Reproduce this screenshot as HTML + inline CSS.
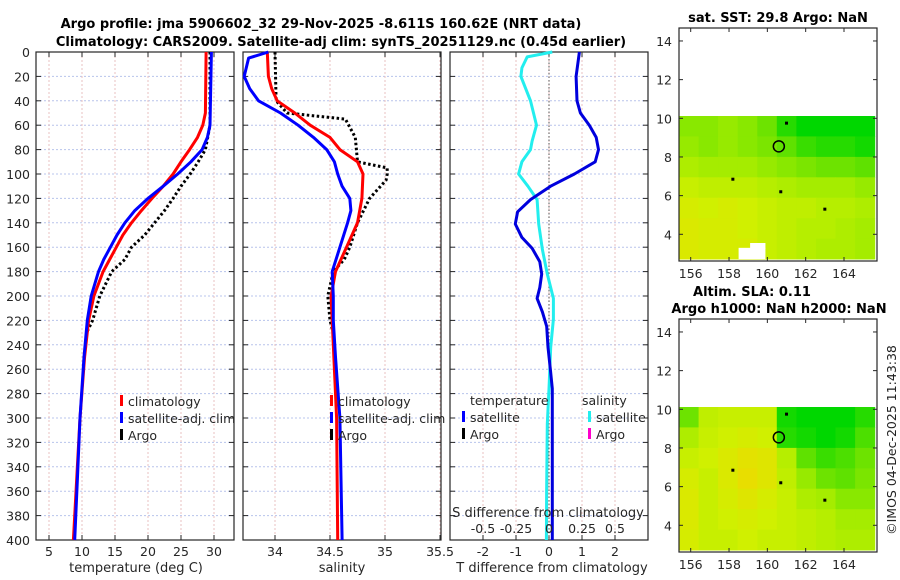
<!DOCTYPE html>
<html><head><meta charset="utf-8"><style>
body{margin:0;background:#fff;}
svg{display:block;font-family:"DejaVu Sans","Liberation Sans",sans-serif;}
</style></head><body>
<svg id="c" width="900" height="580" viewBox="0 0 900 580" xmlns="http://www.w3.org/2000/svg">
<text x="321" y="28" text-anchor="middle" font-size="13" font-weight="bold">Argo profile: jma 5906602_32 29-Nov-2025 -8.611S 160.62E (NRT data)</text>
<text x="341" y="46" text-anchor="middle" font-size="13" font-weight="bold">Climatology: CARS2009. Satellite-adj clim: synTS_20251129.nc (0.45d earlier)</text>
<text x="778" y="22" text-anchor="middle" font-size="13" font-weight="bold">sat. SST: 29.8 Argo: NaN</text>
<text x="752" y="296" text-anchor="middle" font-size="13" font-weight="bold">Altim. SLA: 0.11</text>
<text x="779" y="313" text-anchor="middle" font-size="13" font-weight="bold">Argo h1000: NaN h2000: NaN</text>
<text transform="translate(896,440) rotate(-90)" text-anchor="middle" font-size="12.5" fill="#222">©IMOS 04-Dec-2025 11:43:38</text>
<g id="g"></g>
</svg>
<script>
// ---- data ----
const depthTicks=[0,20,40,60,80,100,120,140,160,180,200,220,240,260,280,300,320,340,360,380,400];
const tTicks=[5,10,15,20,25,30];
const sTicks=[34,34.5,35,35.5];
const sTickLabels=['34','34.5','35','35.5'];
const dTicks=[-2,-1,0,1,2];
const dTickLabels=['-2','-1','0','1','2'];
const sdTicks=[-0.5,-0.25,0,0.25,0.5];
const sdTickLabels=['-0.5','-0.25','0','0.25','0.5'];

const climTdepth=[0,50,60,70,80,90,100,110,120,130,140,150,160,170,180,200,220,250,300,350,400];
const climT=[28.8,28.7,28.3,27.5,26.3,25.0,23.8,22.3,20.6,19.0,17.5,16.2,15.2,14.2,13.2,11.8,11.0,10.4,9.7,9.2,8.7];
const satTdepth=[0,60,70,80,90,100,110,120,130,140,150,160,170,180,200,220,250,300,350,400];
const satT=[29.6,29.4,29.0,28.2,26.5,24.5,22.3,20.0,18.0,16.5,15.3,14.3,13.3,12.5,11.4,10.8,10.3,9.7,9.3,8.9];
const argoTdepth=[0,60,80,90,100,110,120,130,140,150,160,170,180,200,220,230];
const argoT=[29.4,29.4,28.7,27.6,26.4,25.0,23.8,22.5,21.0,19.5,17.5,16.5,14.5,12.7,11.6,10.7];

const climSdepth=[0,20,30,40,50,60,70,80,90,100,120,140,160,170,180,200,240,300,400];
const climS=[33.93,33.94,33.97,34.02,34.18,34.32,34.5,34.59,34.75,34.8,34.79,34.75,34.65,34.6,34.55,34.51,34.53,34.56,34.57];
const satSdepth=[0,5,20,30,40,50,60,70,80,90,100,110,120,130,140,160,180,200,220,250,300,400];
const satS=[33.94,33.76,33.72,33.77,33.85,34.05,34.21,34.35,34.47,34.54,34.57,34.61,34.68,34.69,34.66,34.59,34.52,34.53,34.53,34.55,34.59,34.61];
const argoSdepth=[0,40,50,55,70,90,95,100,105,120,140,160,170,180,200,220,230];
const argoS=[34.0,34.01,34.11,34.64,34.73,34.75,35.02,35.02,35.01,34.86,34.75,34.68,34.63,34.53,34.48,34.5,34.53];

const dTdepth=[0,20,40,50,60,70,80,90,100,110,121,131,141,152,161,172,182,193,202,213,225,242,262,276,400];
const dT=[0.92,0.82,0.85,0.95,1.22,1.43,1.5,1.4,0.77,0.05,-0.56,-0.95,-1.02,-0.82,-0.51,-0.28,-0.22,-0.28,-0.36,-0.2,-0.07,-0.03,0.05,0.1,0.1];
const dSdepth=[0,4,13,20,40,60,73,80,90,100,110,121,141,162,182,202,219,242,276,305,362,400];
const dS=[0.025,-0.165,-0.205,-0.213,-0.14,-0.095,-0.128,-0.14,-0.205,-0.23,-0.16,-0.09,-0.078,-0.05,-0.013,0.033,0.033,0.013,0,-0.013,-0.018,-0.02];

const mapLonTicks=[156,158,160,162,164];
const mapLatTicks=[4,6,8,10,12,14];
const sstGrid=[
[0.6,0.6,0.55,0.6,0.7,0.9,1,1,1,1],
[0.55,0.6,0.55,0.6,0.65,0.75,0.85,0.9,0.9,0.95],
[0.45,0.5,0.5,0.5,0.55,0.6,0.65,0.7,0.7,0.75],
[0.3,0.35,0.35,0.35,0.4,0.45,0.5,0.5,0.5,0.55],
[0.2,0.25,0.2,0.25,0.3,0.35,0.35,0.4,0.4,0.45],
[0.15,0.2,0.2,0.25,0.3,0.35,0.4,0.4,0.45,0.5],
[0.15,0.2,0.2,0.2,0.3,0.35,0.4,0.45,0.45,0.5]];
const slaGrid=[
[0.7,0.35,0.3,0.3,0.3,0.95,1,1,1,0.9],
[0.45,0.3,0.25,0.2,0.25,0.9,0.95,1,0.95,0.8],
[0.3,0.25,0.15,0.05,0.1,0.4,0.75,0.85,0.8,0.7],
[0.2,0.3,0.15,0.0,0.1,0.35,0.55,0.7,0.75,0.65],
[0.15,0.3,0.2,0.1,0.2,0.3,0.45,0.5,0.6,0.6],
[0.15,0.3,0.25,0.2,0.25,0.3,0.35,0.4,0.5,0.5],
[0.2,0.3,0.3,0.25,0.3,0.3,0.35,0.4,0.45,0.45]];
const argoPos=[160.6,8.55];

// ---- helpers ----
const NS='http://www.w3.org/2000/svg';
const G=document.getElementById('g');
function mk(tag,at,parent){const e=document.createElementNS(NS,tag);for(const k in at)e.setAttribute(k,at[k]);(parent||G).appendChild(e);return e;}
function txt(x,y,s,size,anchor,fill){const e=mk('text',{x:x,y:y,'font-size':size||12.5,'text-anchor':anchor||'middle',fill:fill||'#262626'});e.textContent=s;return e;}
const Y0=52,Y1=540;
const yD=d=>Y0+d/400*(Y1-Y0);
function lin(d0,d1,r0,r1){return v=>r0+(v-d0)/(d1-d0)*(r1-r0);}

function panel(x0,x1,xs,ticks,labels,name){
  depthTicks.forEach(d=>{if(d>0&&d<400){const l=mk('line',{x1:x0,x2:x1,y1:yD(d),y2:yD(d),stroke:'#b8c4ec','stroke-width':1,'stroke-dasharray':'2 2'});
  
  }});
  ticks.forEach(t=>{const x=xs(t);const l=mk('line',{x1:x,x2:x,y1:Y0,y2:Y1,stroke:'#e8c0c0','stroke-width':1,'stroke-dasharray':'2 2'});
  
  });
  const f=mk('rect',{x:x0,y:Y0,width:x1-x0,height:Y1-Y0,fill:'none',stroke:'#262626','stroke-width':1.2});
  
  
  depthTicks.forEach(d=>{mk('line',{x1:x0,x2:x0+5,y1:yD(d),y2:yD(d),stroke:'#262626'});mk('line',{x1:x1,x2:x1-5,y1:yD(d),y2:yD(d),stroke:'#262626'});});
  ticks.forEach((t,i)=>{const x=xs(t);mk('line',{x1:x,x2:x,y1:Y1,y2:Y1-5,stroke:'#262626'});mk('line',{x1:x,x2:x,y1:Y0,y2:Y0+5,stroke:'#262626'});
   if(labels){const e=txt(x,556,labels[i]);
   
   }});
}
function series(xs,vals,depths,color,w,dash,name){
  const p=vals.map((v,i)=>(i?'L':'M')+xs(v).toFixed(1)+','+yD(depths[i]).toFixed(1)).join('');
  const e=mk('path',{d:p,fill:'none',stroke:color,'stroke-width':w,'stroke-linejoin':'round','stroke-dasharray':dash||'none'});
  
  
}
function legendEntry(x,y,label,color,name){
  mk('rect',{x:x,y:y-11,width:3,height:11,fill:color});
  const e=txt(x+8,y,label,12.5,'start');
  
  
}

// panel 1 temperature
const xT=lin(5,30,49,214);
panel(36,234,xT,tTicks,tTicks.map(String),'temperature-panel');
depthTicks.forEach(d=>{const e=txt(30,yD(d)+5,String(d),12.5,'end');

});
series(xT,argoT,argoTdepth,'#000',3,'2.5 2.5','argo-temperature-line');
series(xT,climT,climTdepth,'#ff0000',3,null,'climatology-temperature-line');
series(xT,satT,satTdepth,'#0000ff',3,null,'satellite-temperature-line');
legendEntry(120,406,'climatology','#ff0000','legend-climatology');
legendEntry(120,423,'satellite-adj. clim','#0000ff','legend-satellite-adj');
legendEntry(120,440,'Argo','#000','legend-argo');
const xl1=txt(136,572,'temperature (deg C)',13);



// panel 2 salinity
const xS=lin(34,35.5,275,440);
panel(243,441,xS,sTicks,sTickLabels,'salinity-panel');
series(xS,argoS,argoSdepth,'#000',3,'2.5 2.5','argo-salinity-line');
series(xS,climS,climSdepth,'#ff0000',3,null,'climatology-salinity-line');
series(xS,satS,satSdepth,'#0000ff',3,null,'satellite-salinity-line');
legendEntry(330,406,'climatology','#ff0000','legend-climatology-2');
legendEntry(330,423,'satellite-adj. clim','#0000ff','legend-satellite-adj-2');
legendEntry(330,440,'Argo','#000','legend-argo-2');
const xl2=txt(342,572,'salinity',13);



// panel 3 differences
const xDT=lin(-2,2,483,615);
const xDS=lin(-0.5,0.5,483,615);
panel(450,648,xDT,dTicks,dTickLabels,'difference-panel');
const zl=mk('line',{x1:xDT(0),x2:xDT(0),y1:Y0,y2:Y1,stroke:'#555','stroke-width':1,'stroke-dasharray':'1.5 2'});


series(xDS,dS,dSdepth,'#22eeee',3,null,'salinity-difference-line');
series(xDT,dT,dTdepth,'#0000dd',3,null,'temperature-difference-line');
txt(470,405,'temperature',12.5,'start');
legendEntry(462,422,'satellite','#0000ff','legend-t-satellite');
legendEntry(462,439,'Argo','#000','legend-t-argo');
txt(582,405,'salinity',12.5,'start');
legendEntry(588,422,'satellite','#22eeee','legend-s-satellite');
legendEntry(588,439,'Argo','#ff00cc','legend-s-argo');
const sdt=txt(548,517,'S difference from climatology',13);


sdTicks.forEach((t,i)=>{const e=txt(xDS(t),533,sdTickLabels[i],12.5);

});
const xl3=txt(552,572,'T difference from climatology',13);



// maps
const stops=[[0,[232,222,0]],[0.25,[208,240,0]],[0.5,[165,236,0]],[0.75,[95,225,0]],[1,[0,215,0]]];
function cmap(v){for(let i=1;i<stops.length;i++){if(v<=stops[i][0]){const a=stops[i-1],b=stops[i],t=(v-a[0])/(b[0]-a[0]);
 return 'rgb('+a[1].map((c,k)=>Math.round(c+(b[1][k]-c)*t)).join(',')+')';}}return 'rgb(0,215,0)';}
function map(top,grid,name){
  const lonX=lin(156,164,690.7,844),latY=lin(10,4,top+90.3,top+206.3);
  const lonA=155.39,lonB=165.6,latA=10.12,latB=2.72;
  const rows=grid.length,cols=grid[0].length;
  const dl=(lonB-lonA)/cols,dt=(latA-latB)/rows;
  grid.forEach((row,r)=>row.forEach((v,c)=>{
    const x=lonX(lonA+c*dl),y=latY(latA-r*dt);
    const e=mk('rect',{x:x.toFixed(1),y:y.toFixed(1),width:(lonX(lonA+(c+1)*dl)-x+0.5).toFixed(1),height:(latY(latA-(r+1)*dt)-y+0.5).toFixed(1),fill:cmap(v)});
    
    
  }));
  const f=mk('rect',{x:679,y:top,width:198,height:233,fill:'none',stroke:'#262626','stroke-width':1.2});
  
  
  mapLatTicks.forEach(l=>{const y=latY(l);mk('line',{x1:679,x2:683,y1:y,y2:y,stroke:'#262626'});mk('line',{x1:877,x2:873,y1:y,y2:y,stroke:'#262626'});
    const e=txt(672,y+5,String(l),12.5,'end');
    
    });
  mapLonTicks.forEach(l=>{const x=lonX(l);mk('line',{x1:x,x2:x,y1:top+233,y2:top+229,stroke:'#262626'});mk('line',{x1:x,x2:x,y1:top,y2:top+4,stroke:'#262626'});
    const e=txt(x,top+250,String(l),12.5);
    
    });
  const c=mk('circle',{cx:lonX(argoPos[0]),cy:latY(argoPos[1]),r:5.5,fill:'none',stroke:'#000','stroke-width':1.5});
  
  
  [[158.2,6.85],[161,9.75],[160.7,6.2],[163,5.3]].forEach(p=>mk('rect',{x:lonX(p[0])-1.5,y:latY(p[1])-1.5,width:3,height:3,fill:'#000'}));
  return {lonX,latY};
}
const m1=map(28,sstGrid,'sst-map');
mk('rect',{x:m1.lonX(158.5),y:m1.latY(3.3),width:m1.lonX(159.9)-m1.lonX(158.5),height:m1.latY(2.72)-m1.latY(3.3),fill:'#fff'});
mk('rect',{x:m1.lonX(159.1),y:m1.latY(3.55),width:m1.lonX(159.9)-m1.lonX(159.1),height:6,fill:'#fff'});
map(319,slaGrid,'sla-map');
</script>
</body></html>
